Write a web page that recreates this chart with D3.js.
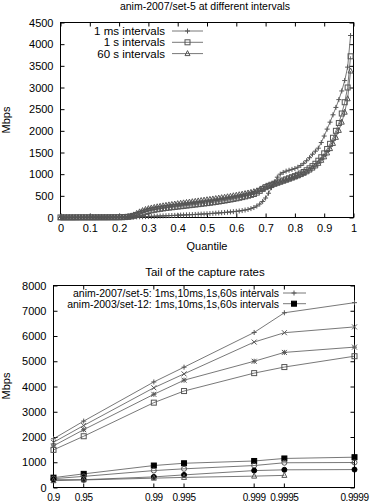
<!DOCTYPE html>
<html>
<head>
<meta charset="utf-8">
<script src="https://cdn.jsdelivr.net/npm/d3@7.9.0/dist/d3.min.js"></script>
<style>
  body { margin: 0; background: #fff; }
  svg { display: block; font-family: "Liberation Sans", Arial, sans-serif; }
</style>
</head>
<body>
<div id="chart"></div>
<script>
// ---- top chart: quantiles of the rate, one row per 0.1 of quantile ----
const quantiles = d3.range(100).map(i => i / 100);

const rate1ms = [
  2, 2, 3, 3, 3, 4, 4, 4, 5, 5,
  5, 5, 6, 6, 6, 7, 7, 7, 8, 8,
  8, 9, 10, 11, 12, 13, 14, 16, 18, 20,
  22, 25, 28, 31, 34, 37, 40, 43, 46, 49,
  52, 55, 58, 61, 64, 67, 70, 74, 78, 82,
  86, 90, 95, 100, 105, 110, 116, 122, 128, 135,
  142, 150, 160, 172, 186, 205, 230, 265, 310, 370,
  450, 560, 690, 820, 930, 1000, 1040, 1070, 1090, 1110,
  1130, 1160, 1200, 1250, 1310, 1380, 1460, 1530, 1600, 1730,
  1880, 2040, 2200, 2370, 2540, 2720, 2920, 3160, 3470, 4200
];
const rate1s = [
  1, 1, 1, 1, 1, 1, 2, 2, 2, 2,
  2, 2, 2, 3, 3, 3, 3, 4, 4, 4,
  5, 7, 10, 15, 24, 38, 56, 80, 105, 130,
  150, 165, 178, 190, 200, 210, 220, 228, 236, 244,
  252, 260, 268, 276, 284, 292, 300, 308, 316, 324,
  332, 341, 350, 360, 370, 381, 392, 404, 416, 429,
  442, 456, 471, 487, 504, 522, 542, 575, 615, 660,
  700, 730, 755, 780, 805, 830, 855, 880, 905, 930,
  955, 985, 1015, 1050, 1090, 1135, 1185, 1240, 1310, 1390,
  1480, 1580, 1700, 1840, 2000, 2180, 2400, 2660, 3000, 3720
];
const rate60s = [
  1, 1, 1, 1, 1, 1, 1, 1, 2, 2,
  2, 2, 2, 2, 3, 3, 3, 3, 4, 4,
  5, 8, 12, 20, 35, 60, 95, 130, 160, 185,
  205, 220, 234, 247, 259, 270, 281, 291, 301, 311,
  320, 329, 338, 347, 356, 365, 374, 383, 392, 401,
  410, 419, 428, 438, 448, 458, 468, 479, 490, 502,
  514, 526, 539, 552, 566, 581, 597, 615, 640, 670,
  705, 730, 752, 774, 796, 818, 840, 862, 885, 910,
  935, 960, 990, 1020, 1055, 1095, 1140, 1190, 1250, 1320,
  1400, 1490, 1590, 1710, 1850, 2010, 2200, 2430, 2740, 3380
];

// ---- bottom chart: tail quantiles ----
const tailQuantiles = [0.9, 0.95, 0.99, 0.995, 0.999, 0.9995, 0.9999];
const tailLabels = ["0.9", "0.95", "0.99", "0.995", "0.999", "0.9995", "0.9999"];

const set5_1ms  = [1930, 2630, 4180, 4765, 6140, 6920, 7320];
const set5_10ms = [1790, 2455, 3950, 4500, 5760, 6130, 6360];
const set5_1s   = [1650, 2290, 3690, 4250, 5000, 5350, 5560];
const set5_60s  = [1490, 2030, 3360, 3820, 4530, 4770, 5200];

const set12_1ms  = [390, 540, 870, 960, 1050, 1150, 1200];
const set12_10ms = [350, 440, 670, 740, 870, 980, 990];
const set12_1s   = [310, 310, 420, 500, 670, 700, 710];
const set12_60s  = [270, 300, 370, 400, 450, 480];

const width = 371, height = 502;
const ink = "#000", lineCol = "#555";

const svg = d3.select("#chart").append("svg")
    .attr("width", width)
    .attr("height", height);

// gnuplot style point types
function marker(g, type, x, y) {
    const s = 2.5;
    if (type === "plus") {
        g.append("path").attr("d", `M${x - s},${y}H${x + s}M${x},${y - s}V${y + s}`)
            .attr("stroke", lineCol).attr("fill", "none");
    } else if (type === "cross") {
        g.append("path").attr("d", `M${x - s},${y - s}L${x + s},${y + s}M${x - s},${y + s}L${x + s},${y - s}`)
            .attr("stroke", lineCol).attr("fill", "none");
    } else if (type === "star") {
        g.append("path").attr("d", `M${x - s},${y}H${x + s}M${x},${y - s}V${y + s}M${x - s},${y - s}L${x + s},${y + s}M${x - s},${y + s}L${x + s},${y - s}`)
            .attr("stroke", lineCol).attr("fill", "none");
    } else if (type === "box" || type === "fbox") {
        g.append("rect").attr("x", x - s).attr("y", y - s).attr("width", 2 * s).attr("height", 2 * s)
            .attr("stroke", type === "fbox" ? ink : lineCol)
            .attr("fill", type === "fbox" ? ink : "none");
    } else if (type === "circle" || type === "fcircle") {
        g.append("circle").attr("cx", x).attr("cy", y).attr("r", s)
            .attr("stroke", type === "fcircle" ? ink : lineCol)
            .attr("fill", type === "fcircle" ? ink : "none");
    } else if (type === "tri") {
        g.append("path").attr("d", `M${x},${y - s - 0.5}L${x + s},${y + s - 0.5}L${x - s},${y + s - 0.5}Z`)
            .attr("stroke", lineCol).attr("fill", "none");
    }
}

function frame(x0, x1, y0, y1) {
    svg.append("rect")
        .attr("x", x0).attr("y", y0)
        .attr("width", x1 - x0).attr("height", y1 - y0)
        .attr("fill", "none").attr("stroke", ink).attr("stroke-width", 1);
}

function styleAxis(g, hideText) {
    g.select(".domain").remove();
    g.selectAll(".tick line").attr("stroke", ink);
    g.selectAll("text").attr("fill", ink).attr("font-size", 11);
    if (hideText) g.selectAll("text").remove();
}

// ================= top chart =================
const x1 = d3.scaleLinear().domain([0, 1]).range([60.5, 353.5]);
const y1 = d3.scaleLinear().domain([0, 4500]).range([217.5, 22.5]);

svg.append("text")
    .attr("x", 205).attr("y", 9.5)
    .attr("text-anchor", "middle").attr("font-size", 10.5)
    .text("anim-2007/set-5 at different intervals");

svg.append("g").attr("transform", "translate(0,217.5)")
    .call(d3.axisBottom(x1).ticks(10).tickSize(-4).tickPadding(7).tickFormat(d3.format("")))
    .call(g => styleAxis(g, false));
svg.append("g").attr("transform", "translate(0,22.5)")
    .call(d3.axisTop(x1).ticks(10).tickSize(-4))
    .call(g => styleAxis(g, true));
svg.append("g").attr("transform", "translate(60.5,0)")
    .call(d3.axisLeft(y1).tickValues(d3.range(0, 4501, 500)).tickSize(-4).tickPadding(7).tickFormat(d3.format("d")))
    .call(g => styleAxis(g, false));
svg.append("g").attr("transform", "translate(353.5,0)")
    .call(d3.axisRight(y1).tickValues(d3.range(0, 4501, 500)).tickSize(-4))
    .call(g => styleAxis(g, true));
frame(60.5, 353.5, 22.5, 217.5);

svg.append("text")
    .attr("x", 207).attr("y", 250)
    .attr("text-anchor", "middle").attr("font-size", 11)
    .text("Quantile");
svg.append("text")
    .attr("transform", "translate(10,120) rotate(-90)")
    .attr("text-anchor", "middle").attr("font-size", 11)
    .text("Mbps");

const topSeries = [
    { name: "1 ms intervals", values: rate1ms, type: "plus" },
    { name: "1 s intervals", values: rate1s, type: "box" },
    { name: "60 s intervals", values: rate60s, type: "tri" }
];

const topLine = d3.line()
    .x((d, i) => x1(quantiles[i]))
    .y(d => y1(d));

topSeries.forEach((s, k) => {
    const g = svg.append("g");
    g.append("path").datum(s.values)
        .attr("d", topLine)
        .attr("fill", "none").attr("stroke", lineCol).attr("stroke-width", 0.8);
    s.values.forEach((v, i) => marker(g, s.type, x1(quantiles[i]), y1(v)));

    // legend
    const ly = 31 + k * 11.3;
    svg.append("text")
        .attr("x", 165).attr("y", ly + 4)
        .attr("text-anchor", "end").attr("font-size", 11.5)
        .text(s.name);
    svg.append("line")
        .attr("x1", 172).attr("x2", 203).attr("y1", ly).attr("y2", ly)
        .attr("stroke", lineCol).attr("stroke-width", 0.8);
    marker(svg.append("g"), s.type, 187.5, ly);
});

// ================= bottom chart =================
const x2 = d3.scaleLog().domain([0.1, 0.0001]).range([53.5, 354.5]);
const y2 = d3.scaleLinear().domain([0, 8000]).range([487.5, 285.5]);
const tx = q => x2(1 - q);

svg.append("text")
    .attr("x", 205).attr("y", 275.5)
    .attr("text-anchor", "middle").attr("font-size", 11.5)
    .text("Tail of the capture rates");

const gx = svg.append("g").attr("transform", "translate(0,487.5)");
tailQuantiles.forEach((q, i) => {
    const t = gx.append("g").attr("transform", `translate(${tx(q)},0)`);
    t.append("line").attr("y2", -4).attr("stroke", ink);
    t.append("text").attr("y", 13.5).attr("text-anchor", "middle")
        .attr("font-size", 10).attr("letter-spacing", -0.4).text(tailLabels[i]);
    svg.append("line")
        .attr("x1", tx(q)).attr("x2", tx(q)).attr("y1", 285.5).attr("y2", 289.5)
        .attr("stroke", ink);
});
svg.append("g").attr("transform", "translate(53.5,0)")
    .call(d3.axisLeft(y2).tickValues(d3.range(0, 8001, 1000)).tickSize(-4).tickPadding(7).tickFormat(d3.format("d")))
    .call(g => styleAxis(g, false));
svg.append("g").attr("transform", "translate(354.5,0)")
    .call(d3.axisRight(y2).tickValues(d3.range(0, 8001, 1000)).tickSize(-4))
    .call(g => styleAxis(g, true));
frame(53.5, 354.5, 285.5, 487.5);

svg.append("text")
    .attr("transform", "translate(10,386) rotate(-90)")
    .attr("text-anchor", "middle").attr("font-size", 11)
    .text("Mbps");

const tailSeries = [
    { values: set5_1ms, type: "plus", legend: "anim-2007/set-5: 1ms,10ms,1s,60s intervals" },
    { values: set5_10ms, type: "cross" },
    { values: set5_1s, type: "star" },
    { values: set5_60s, type: "box" },
    { values: set12_1ms, type: "fbox", legend: "anim-2003/set-12: 1ms,10ms,1s,60s intervals" },
    { values: set12_10ms, type: "circle" },
    { values: set12_1s, type: "fcircle" },
    { values: set12_60s, type: "tri" }
];

const tailLine = d3.line()
    .x((d, i) => tx(tailQuantiles[i]))
    .y(d => y2(d));

let legendRow = 0;
tailSeries.forEach(s => {
    const g = svg.append("g");
    g.append("path").datum(s.values)
        .attr("d", tailLine)
        .attr("fill", "none").attr("stroke", lineCol).attr("stroke-width", 0.8);
    s.values.forEach((v, i) => marker(g, s.type, tx(tailQuantiles[i]), y2(v)));

    if (s.legend) {
        const ly = 293 + legendRow * 10.7;
        svg.append("text")
            .attr("x", 279).attr("y", ly + 4)
            .attr("text-anchor", "end").attr("font-size", 10.5)
            .text(s.legend);
        svg.append("line")
            .attr("x1", 283).attr("x2", 306).attr("y1", ly).attr("y2", ly)
            .attr("stroke", lineCol).attr("stroke-width", 0.8);
        marker(svg.append("g"), s.type, 294, ly);
        legendRow++;
    }
});
</script>
</body>
</html>
